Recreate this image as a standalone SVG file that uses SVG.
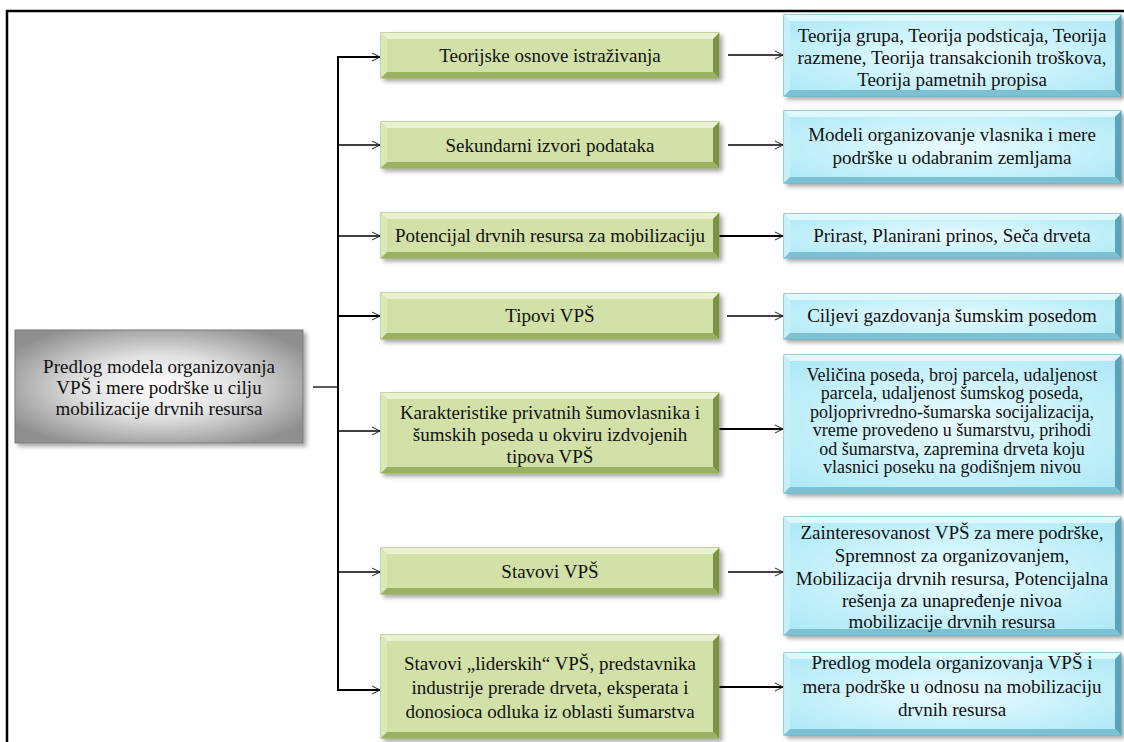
<svg xmlns="http://www.w3.org/2000/svg" width="1124" height="742" viewBox="0 0 1124 742" font-family="Liberation Serif, Times New Roman, serif">
<defs>
<style>
text{font-size:19px;fill:#111;text-anchor:middle}
.t18{font-size:18px}
.gb{fill:#d2e1a7;stroke:#8ea84f;stroke-width:1}
.gt{fill:#e9f1d0}.gl{fill:#dde8b9}.gr{fill:#7e9245}.gd{fill:#9bb061}
.bb{fill:url(#blueGrad);stroke:#3fa0bd;stroke-width:1}
.bt{fill:#def8fd}.bl{fill:#c6f0f9}.br{fill:#5aa3b8}.bd{fill:#7cc1d3}
.c{fill:none;stroke:#000;stroke-width:1.3}
.ck{fill:none;stroke:#000;stroke-width:2}
</style>
<radialGradient id="grayGrad" cx="50%" cy="50%" r="60%">
<stop offset="0" stop-color="#ffffff"/>
<stop offset="0.45" stop-color="#e2e2e2"/>
<stop offset="1" stop-color="#8f8f8f"/>
</radialGradient>
<radialGradient id="blueGrad" cx="50%" cy="50%" r="65%">
<stop offset="0" stop-color="#eafcff"/>
<stop offset="1" stop-color="#aee9f6"/>
</radialGradient>
<filter id="sh" x="-5%" y="-10%" width="115%" height="130%">
<feDropShadow dx="3" dy="3" stdDeviation="2" flood-color="#000" flood-opacity="0.35"/>
</filter>
<marker id="arr" markerWidth="10" markerHeight="10" refX="9" refY="5" orient="auto" markerUnits="userSpaceOnUse">
<path d="M1,1 L9,5 L1,9" fill="none" stroke="#222" stroke-width="1"/>
</marker>
</defs>

<rect x="7" y="11" width="1130" height="745" fill="none" stroke="#000" stroke-width="2.5"/>

<g id="connectors">
<line class="c" x1="313" y1="387" x2="338" y2="387"/>
<line class="ck" x1="338" y1="56" x2="338" y2="691"/>
<line class="ck" x1="338" y1="57" x2="380" y2="57" marker-end="url(#arr)"/>
<line class="c" x1="338" y1="145" x2="380" y2="145" marker-end="url(#arr)"/>
<line class="c" x1="338" y1="236" x2="380" y2="236" marker-end="url(#arr)"/>
<line class="ck" x1="338" y1="316" x2="380" y2="316" marker-end="url(#arr)"/>
<line class="c" x1="338" y1="431" x2="380" y2="431" marker-end="url(#arr)"/>
<line class="c" x1="338" y1="572" x2="380" y2="572" marker-end="url(#arr)"/>
<line class="ck" x1="338" y1="690" x2="380" y2="690" marker-end="url(#arr)"/>
<line class="c" x1="728" y1="55" x2="783" y2="55" marker-end="url(#arr)"/>
<line class="c" x1="728" y1="145" x2="783" y2="145" marker-end="url(#arr)"/>
<line class="ck" x1="719" y1="236" x2="783" y2="236" marker-end="url(#arr)"/>
<line class="c" x1="727" y1="316" x2="783" y2="316" marker-end="url(#arr)"/>
<line class="ck" x1="719" y1="429" x2="783" y2="429" marker-end="url(#arr)"/>
<line class="c" x1="728" y1="572" x2="783" y2="572" marker-end="url(#arr)"/>
<line class="ck" x1="719" y1="687" x2="783" y2="687" marker-end="url(#arr)"/>
</g>

<g id="main">
<rect x="15" y="330" width="288" height="113" fill="url(#grayGrad)" stroke="#7a7a7a" stroke-width="1" filter="url(#sh)"/>
<text x="159" y="373">Predlog modela organizovanja</text>
<text x="159" y="394">VPŠ i mere podrške u cilju</text>
<text x="159" y="415">mobilizacije drvnih resursa</text>
</g>

<g id="g1">
<rect class="gb" x="381" y="33" width="338" height="45" filter="url(#sh)"/>
<polygon class="gt" points="381,33 719,33 713,39 387,39"/>
<polygon class="gl" points="381,33 387,39 387,72 381,78"/>
<polygon class="gr" points="719,33 719,78 713,72 713,39"/>
<polygon class="gd" points="381,78 719,78 713,72 387,72"/>
<text x="550" y="62">Teorijske osnove istraživanja</text>
</g>
<g id="g2">
<rect class="gb" x="381" y="122" width="338" height="46" filter="url(#sh)"/>
<polygon class="gt" points="381,122 719,122 713,128 387,128"/>
<polygon class="gl" points="381,122 387,128 387,162 381,168"/>
<polygon class="gr" points="719,122 719,168 713,162 713,128"/>
<polygon class="gd" points="381,168 719,168 713,162 387,162"/>
<text x="550" y="152">Sekundarni izvori podataka</text>
</g>
<g id="g3">
<rect class="gb" x="381" y="213" width="338" height="45" filter="url(#sh)"/>
<polygon class="gt" points="381,213 719,213 713,219 387,219"/>
<polygon class="gl" points="381,213 387,219 387,252 381,258"/>
<polygon class="gr" points="719,213 719,258 713,252 713,219"/>
<polygon class="gd" points="381,258 719,258 713,252 387,252"/>
<text x="550" y="242">Potencijal drvnih resursa za mobilizaciju</text>
</g>
<g id="g4">
<rect class="gb" x="381" y="293" width="338" height="46" filter="url(#sh)"/>
<polygon class="gt" points="381,293 719,293 713,299 387,299"/>
<polygon class="gl" points="381,293 387,299 387,333 381,339"/>
<polygon class="gr" points="719,293 719,339 713,333 713,299"/>
<polygon class="gd" points="381,339 719,339 713,333 387,333"/>
<text x="550" y="322">Tipovi VPŠ</text>
</g>
<g id="g5">
<rect class="gb" x="381" y="393" width="338" height="80" filter="url(#sh)"/>
<polygon class="gt" points="381,393 719,393 713,399 387,399"/>
<polygon class="gl" points="381,393 387,399 387,467 381,473"/>
<polygon class="gr" points="719,393 719,473 713,467 713,399"/>
<polygon class="gd" points="381,473 719,473 713,467 387,467"/>
<text x="550" y="419">Karakteristike privatnih šumovlasnika i</text>
<text x="550" y="441">šumskih poseda u okviru izdvojenih</text>
<text x="550" y="463">tipova VPŠ</text>
</g>
<g id="g6">
<rect class="gb" x="381" y="548" width="338" height="46" filter="url(#sh)"/>
<polygon class="gt" points="381,548 719,548 713,554 387,554"/>
<polygon class="gl" points="381,548 387,554 387,588 381,594"/>
<polygon class="gr" points="719,548 719,594 713,588 713,554"/>
<polygon class="gd" points="381,594 719,594 713,588 387,588"/>
<text x="550" y="578">Stavovi VPŠ</text>
</g>
<g id="g7">
<rect class="gb" x="381" y="635" width="338" height="103" filter="url(#sh)"/>
<polygon class="gt" points="381,635 719,635 713,641 387,641"/>
<polygon class="gl" points="381,635 387,641 387,732 381,738"/>
<polygon class="gr" points="719,635 719,738 713,732 713,641"/>
<polygon class="gd" points="381,738 719,738 713,732 387,732"/>
<text x="550" y="670">Stavovi „liderskih“ VPŠ, predstavnika</text>
<text x="550" y="694">industrije prerade drveta, eksperata i</text>
<text x="550" y="718">donosioca odluka iz oblasti šumarstva</text>
</g>

<g id="b1">
<rect class="bb" x="784" y="15" width="337" height="81" filter="url(#sh)"/>
<polygon class="bt" points="784,15 1121,15 1115,21 790,21"/>
<polygon class="bl" points="784,15 790,21 790,90 784,96"/>
<polygon class="br" points="1121,15 1121,96 1115,90 1115,21"/>
<polygon class="bd" points="784,96 1121,96 1115,90 790,90"/>
<text x="952" y="42">Teorija grupa, Teorija podsticaja, Teorija</text>
<text x="952" y="64">razmene, Teorija transakcionih troškova,</text>
<text x="952" y="86">Teorija pametnih propisa</text>
</g>
<g id="b2">
<rect class="bb" x="784" y="111" width="337" height="72" filter="url(#sh)"/>
<polygon class="bt" points="784,111 1121,111 1115,117 790,117"/>
<polygon class="bl" points="784,111 790,117 790,177 784,183"/>
<polygon class="br" points="1121,111 1121,183 1115,177 1115,117"/>
<polygon class="bd" points="784,183 1121,183 1115,177 790,177"/>
<text x="952" y="141">Modeli organizovanje vlasnika i mere</text>
<text x="952" y="164">podrške u odabranim zemljama</text>
</g>
<g id="b3">
<rect class="bb" x="784" y="214" width="337" height="44" filter="url(#sh)"/>
<polygon class="bt" points="784,214 1121,214 1115,220 790,220"/>
<polygon class="bl" points="784,214 790,220 790,252 784,258"/>
<polygon class="br" points="1121,214 1121,258 1115,252 1115,220"/>
<polygon class="bd" points="784,258 1121,258 1115,252 790,252"/>
<text x="952" y="242">Prirast, Planirani prinos, Seča drveta</text>
</g>
<g id="b4">
<rect class="bb" x="784" y="294" width="337" height="45" filter="url(#sh)"/>
<polygon class="bt" points="784,294 1121,294 1115,300 790,300"/>
<polygon class="bl" points="784,294 790,300 790,333 784,339"/>
<polygon class="br" points="1121,294 1121,339 1115,333 1115,300"/>
<polygon class="bd" points="784,339 1121,339 1115,333 790,333"/>
<text x="952" y="322">Ciljevi gazdovanja šumskim posedom</text>
</g>
<g id="b5">
<rect class="bb" x="784" y="355" width="337" height="138" filter="url(#sh)"/>
<polygon class="bt" points="784,355 1121,355 1115,361 790,361"/>
<polygon class="bl" points="784,355 790,361 790,487 784,493"/>
<polygon class="br" points="1121,355 1121,493 1115,487 1115,361"/>
<polygon class="bd" points="784,493 1121,493 1115,487 790,487"/>
<text class="t18" x="952" y="381">Veličina poseda, broj parcela, udaljenost</text>
<text class="t18" x="952" y="399">parcela, udaljenost šumskog poseda,</text>
<text class="t18" x="952" y="418">poljoprivredno-šumarska socijalizacija,</text>
<text class="t18" x="952" y="436">vreme provedeno u šumarstvu, prihodi</text>
<text class="t18" x="952" y="455">od šumarstva, zapremina drveta koju</text>
<text class="t18" x="952" y="473">vlasnici poseku na godišnjem nivou</text>
</g>
<g id="b6">
<rect class="bb" x="784" y="517" width="337" height="118" filter="url(#sh)"/>
<polygon class="bt" points="784,517 1121,517 1115,523 790,523"/>
<polygon class="bl" points="784,517 790,523 790,629 784,635"/>
<polygon class="br" points="1121,517 1121,635 1115,629 1115,523"/>
<polygon class="bd" points="784,635 1121,635 1115,629 790,629"/>
<text x="952" y="539">Zainteresovanost VPŠ za mere podrške,</text>
<text x="952" y="562">Spremnost za organizovanjem,</text>
<text x="952" y="585">Mobilizacija drvnih resursa, Potencijalna</text>
<text x="952" y="607">rešenja za unapređenje nivoa</text>
<text x="952" y="628">mobilizacije drvnih resursa</text>
</g>
<g id="b7">
<rect class="bb" x="784" y="653" width="337" height="82" filter="url(#sh)"/>
<polygon class="bt" points="784,653 1121,653 1115,659 790,659"/>
<polygon class="bl" points="784,653 790,659 790,729 784,735"/>
<polygon class="br" points="1121,653 1121,735 1115,729 1115,659"/>
<polygon class="bd" points="784,735 1121,735 1115,729 790,729"/>
<text x="952" y="669">Predlog modela organizovanja VPŠ i</text>
<text x="952" y="693">mera podrške u odnosu na mobilizaciju</text>
<text x="952" y="716">drvnih resursa</text>
</g>
</svg>
